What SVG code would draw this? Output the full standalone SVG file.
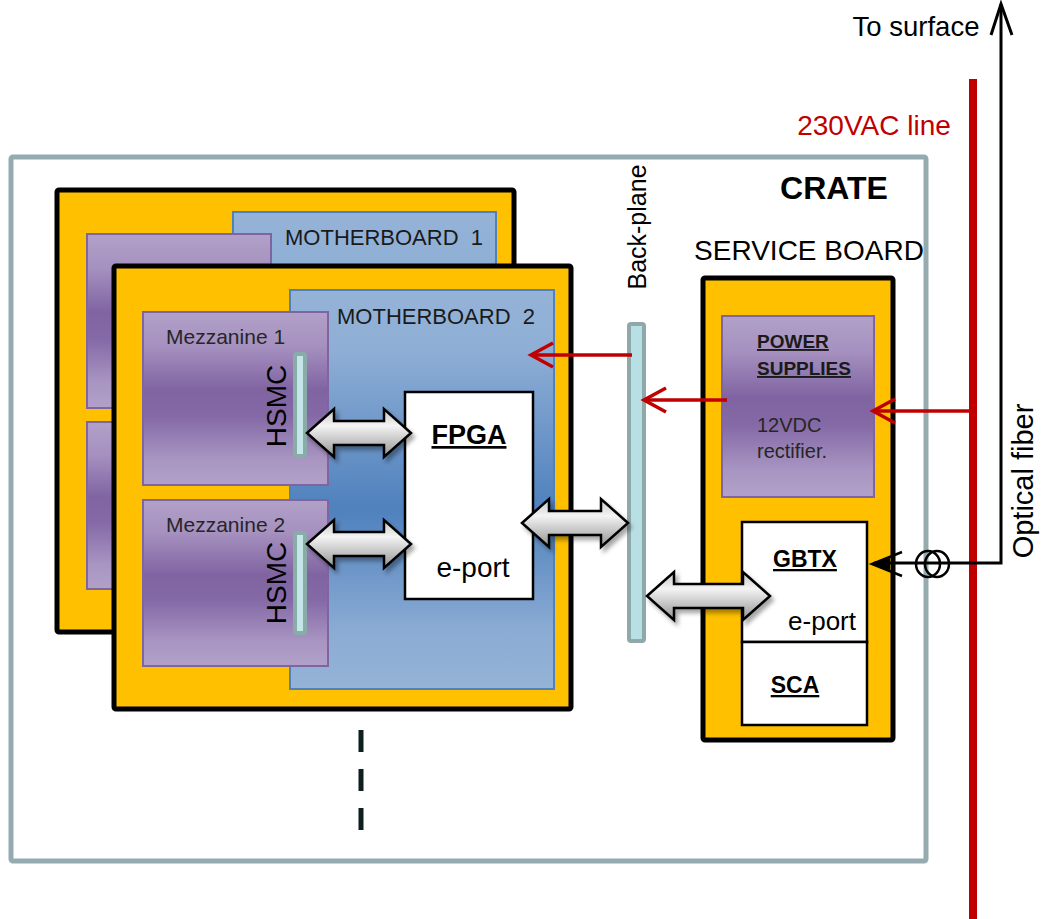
<svg xmlns="http://www.w3.org/2000/svg" width="1042" height="919" viewBox="0 0 1042 919">
<defs>
<linearGradient id="purple" x1="0" y1="0" x2="0" y2="1">
<stop offset="0" stop-color="#b1a1c8"/>
<stop offset="0.2" stop-color="#a590bf"/>
<stop offset="0.45" stop-color="#8064a2"/>
<stop offset="0.6" stop-color="#8469a6"/>
<stop offset="0.85" stop-color="#a895c2"/>
<stop offset="1" stop-color="#b1a1c8"/>
</linearGradient>
<linearGradient id="blue" x1="0" y1="0" x2="0" y2="1">
<stop offset="0" stop-color="#95b3d7"/>
<stop offset="0.15" stop-color="#8eaed5"/>
<stop offset="0.55" stop-color="#4f81bd"/>
<stop offset="0.85" stop-color="#8aabd3"/>
<stop offset="1" stop-color="#95b3d7"/>
</linearGradient>
<linearGradient id="grey" x1="0" y1="0" x2="0" y2="1">
<stop offset="0" stop-color="#c4c4c4"/>
<stop offset="0.35" stop-color="#f4f4f4"/>
<stop offset="1" stop-color="#929292"/>
</linearGradient>
<filter id="shadow" x="-20%" y="-30%" width="150%" height="170%">
<feDropShadow dx="3" dy="4" stdDeviation="2" flood-color="#000" flood-opacity="0.35"/>
</filter>
<marker id="redhead" markerUnits="userSpaceOnUse" viewBox="-24 -14 28 28" refX="0" refY="0" markerWidth="28" markerHeight="28" orient="auto">
<path d="M-22,-12 L0,0 L-22,12" fill="none" stroke="#c00000" stroke-width="3.5"/>
</marker>
<style>
.board{fill:#ffc000;stroke:#000;stroke-width:5}
.mb{fill:url(#blue);stroke:#4f81bd;stroke-width:2}
.mezz{fill:url(#purple);stroke:#8064a2;stroke-width:2}
.conn{fill:#c5e6e9;stroke:#8aaca8;stroke-width:4}
.white{fill:#fff;stroke:#000;stroke-width:2.5}
.garrow{fill:url(#grey);stroke:#000;stroke-width:2.5;stroke-linejoin:miter;filter:url(#shadow)}
.red{fill:none;stroke:#c00000;stroke-width:3.5;marker-end:url(#redhead)}
.ar{font-family:"Liberation Sans",Arial,sans-serif}
.cal{font-family:"Liberation Sans","Open Sans",sans-serif}
</style>
</defs>

<g id="crate">
<rect x="11" y="157" width="915" height="704" fill="#fff" stroke="#95abaf" stroke-width="5" rx="2"/>
<text class="ar" x="834" y="199" font-size="32" font-weight="bold" text-anchor="middle" fill="#000">CRATE</text>
</g>

<g id="motherboard1">
<rect class="board" x="57" y="190" width="457" height="442" rx="2"/>
<rect class="mb" x="233" y="212" width="263" height="400"/>
<rect class="mezz" x="87" y="234" width="184" height="174"/>
<rect class="mezz" x="87" y="422" width="184" height="167"/>
<text class="ar" x="285" y="245" font-size="22" fill="#1a1a1a" xml:space="preserve">MOTHERBOARD  1</text>
</g>

<g id="motherboard2">
<rect class="board" x="114" y="266" width="457" height="443" rx="2"/>
<rect class="mb" x="290" y="290" width="264" height="399"/>
<text class="ar" x="337" y="324" font-size="22" fill="#1a1a1a" xml:space="preserve">MOTHERBOARD  2</text>
</g>

<g id="mezzanine1">
<rect class="mezz" x="143" y="312" width="185" height="173"/>
<text class="cal" x="166" y="344" font-size="21" fill="#262626">Mezzanine 1</text>
<rect class="conn" x="295" y="354" width="10" height="102" rx="2"/>
<text class="ar" transform="translate(286,406) rotate(-90)" font-size="28" text-anchor="middle" fill="#000">HSMC</text>
</g>

<g id="mezzanine2">
<rect class="mezz" x="143" y="500" width="185" height="166"/>
<text class="cal" x="166" y="532" font-size="21" fill="#262626">Mezzanine 2</text>
<rect class="conn" x="295" y="533" width="10" height="100" rx="2"/>
<text class="ar" transform="translate(286,583) rotate(-90)" font-size="28" text-anchor="middle" fill="#000">HSMC</text>
</g>

<g id="fpga">
<rect class="white" x="405" y="392" width="128" height="207"/>
<text class="cal" x="469" y="444" font-size="27" font-weight="bold" text-anchor="middle" text-decoration="underline" fill="#000">FPGA</text>
<text class="cal" x="473" y="577" font-size="28" text-anchor="middle" fill="#000">e-port</text>
</g>

<g id="backplane">
<rect x="629" y="324" width="15" height="317" rx="2" fill="#b8e0e4" stroke="#8fa9ab" stroke-width="4"/>
<text class="ar" transform="translate(646,227) rotate(-90)" font-size="25" text-anchor="middle" fill="#000">Back-plane</text>
</g>

<g id="serviceboard">
<text class="ar" x="809" y="260" font-size="28" text-anchor="middle" fill="#000">SERVICE BOARD</text>
<rect class="board" x="703" y="278" width="190" height="462" rx="2"/>
</g>

<g id="powersupplies">
<rect class="mezz" x="722" y="316" width="152" height="181"/>
<text class="cal" x="757" y="348" font-size="19" font-weight="bold" text-decoration="underline" fill="#1a1a1a">POWER</text>
<text class="cal" x="757" y="375" font-size="19" font-weight="bold" text-decoration="underline" fill="#1a1a1a">SUPPLIES</text>
<text class="cal" x="757" y="432" font-size="20" fill="#262626">12VDC</text>
<text class="cal" x="757" y="458" font-size="20" fill="#262626">rectifier.</text>
</g>

<g id="gbtx">
<rect class="white" x="742" y="522" width="125" height="120"/>
<text class="cal" x="805" y="567" font-size="23" font-weight="bold" text-anchor="middle" text-decoration="underline" fill="#000">GBTX</text>
<text class="cal" x="856" y="630" font-size="26" text-anchor="end" fill="#000">e-port</text>
</g>

<g id="sca">
<rect class="white" x="742" y="642" width="125" height="83"/>
<text class="cal" x="795" y="693" font-size="23" font-weight="bold" text-anchor="middle" text-decoration="underline" fill="#000">SCA</text>
</g>

<g id="labels">
<text class="ar" x="874" y="135" font-size="28" text-anchor="middle" fill="#c00000">230VAC line</text>
<text class="cal" x="916" y="36" font-size="27.5" text-anchor="middle" fill="#000">To surface</text>
<text class="cal" transform="translate(1033,481) rotate(-90)" font-size="29" text-anchor="middle" fill="#000">Optical fiber</text>
</g>

<g id="connectors">
<line x1="361" y1="730" x2="361" y2="830" stroke="#0d1f1f" stroke-width="5" stroke-dasharray="22 17"/>
<line x1="973" y1="79" x2="973" y2="919" stroke="#c00000" stroke-width="8"/>
<path class="garrow" d="M307,433 L334,409 L334,421 L384,421 L384,409 L411,433 L384,457 L384,445 L334,445 L334,457 Z"/>
<path class="garrow" d="M307,544 L334,520 L334,532 L384,532 L384,520 L411,544 L384,568 L384,556 L334,556 L334,568 Z"/>
<path class="garrow" d="M522,523 L549,499 L549,511 L601,511 L601,499 L628,523 L601,547 L601,535 L549,535 L549,547 Z"/>
<path class="garrow" d="M647,596 L674,572 L674,584 L743,584 L743,572 L770,596 L743,620 L743,608 L674,608 L674,620 Z"/>
<line class="red" x1="632" y1="355" x2="531" y2="355"/>
<line class="red" x1="727" y1="400" x2="644" y2="400"/>
<line class="red" x1="970" y1="411" x2="873" y2="411"/>
<polyline points="874,563 1001,563 1001,4" fill="none" stroke="#000" stroke-width="3"/>
<polyline points="991,35 1001,4 1012,35" fill="none" stroke="#000" stroke-width="3"/>
<polygon points="871,564 890,558 890,570" fill="#000"/>
<polyline points="902,552 872,564 902,576" fill="none" stroke="#000" stroke-width="2.5"/>
<ellipse cx="928" cy="564" rx="12" ry="13" fill="none" stroke="#000" stroke-width="2.5"/>
<ellipse cx="937" cy="564" rx="12" ry="13" fill="none" stroke="#000" stroke-width="2.5"/>
</g>
</svg>
